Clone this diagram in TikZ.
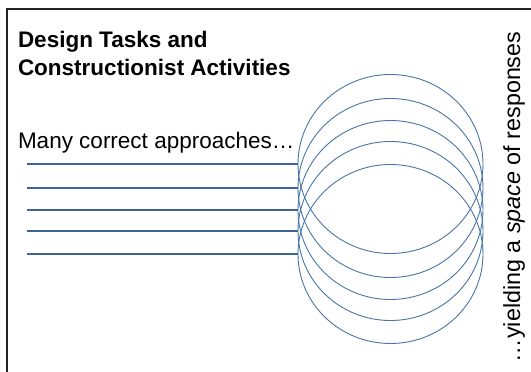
\documentclass[tikz,border=0pt]{standalone}
\usepackage{fontspec}
\setmainfont{Liberation Sans}
\usetikzlibrary{shapes.geometric}
\definecolor{lineblue}{RGB}{60,100,152}
\definecolor{ringblue}{RGB}{72,116,168}
\definecolor{frame}{RGB}{35,35,35}
\begin{document}
\begin{tikzpicture}[x=1pt,y=-1pt,every node/.style={inner sep=0pt,outer sep=0pt,font=\fontsize{22.5}{28}\selectfont}]
\useasboundingbox (0,0) rectangle (531,372);
\draw[frame,line width=1.6pt] (531,9) -- (7,9) -- (7,372);
\node[anchor=north west,align=left,font=\fontsize{22.5}{28}\selectfont\bfseries] (title) at (18,31) {Design Tasks and\\Constructionist Activities};
\node[anchor=base west] (many) at (18,148) {Many correct approaches…};
\node[draw=ringblue,line width=0.9pt,ellipse,minimum width=185pt,minimum height=179pt] (c1) at (390.5,164) {};
\node[draw=ringblue,line width=0.9pt,ellipse,minimum width=185pt,minimum height=179pt] (c2) at (390.5,188) {};
\node[draw=ringblue,line width=0.9pt,ellipse,minimum width=185pt,minimum height=179pt] (c3) at (390.5,210) {};
\node[draw=ringblue,line width=0.9pt,ellipse,minimum width=185pt,minimum height=179pt] (c4) at (390.5,231) {};
\node[draw=ringblue,line width=0.9pt,ellipse,minimum width=185pt,minimum height=179pt] (c5) at (390.5,254) {};
\coordinate (s1) at (27,164);
\coordinate (s2) at (27,188);
\coordinate (s3) at (27,210);
\coordinate (s4) at (27,231);
\coordinate (s5) at (27,254);
\draw[lineblue,line width=2.4pt] (s1) -- (c1.west);
\draw[lineblue,line width=2.4pt] (s2) -- (c2.west);
\draw[lineblue,line width=2.4pt] (s3) -- (c3.west);
\draw[lineblue,line width=2.4pt] (s4) -- (c4.west);
\draw[lineblue,line width=2.4pt] (s5) -- (c5.west);
\node[rotate=90,anchor=base west,font=\fontsize{23.3}{28}\selectfont] (space) at (520,362) {…yielding a \textit{space} of responses};
\end{tikzpicture}
\end{document}
